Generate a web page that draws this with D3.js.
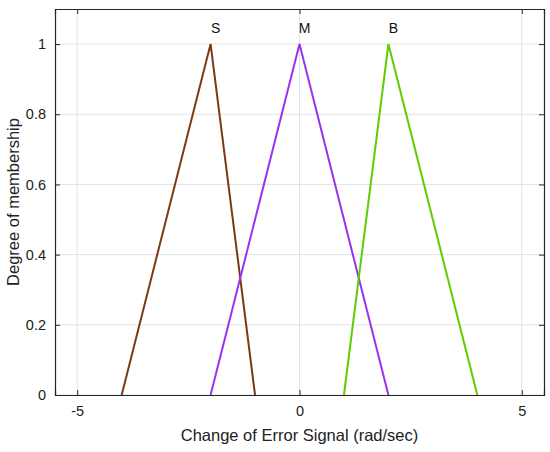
<!DOCTYPE html>
<html>
<head>
<meta charset="utf-8">
<script src="https://cdn.jsdelivr.net/npm/d3@7"></script>
<style>
  body { margin: 0; background: #fff; }
  svg { display: block; font-family: "Liberation Sans", Arial, sans-serif; }
</style>
</head>
<body>
<svg id="chart" width="550" height="452"></svg>
<script>
// membership function names and their triangle corners (a, peak, c)
var mfNames = ["S", "M", "B"];
var mfPoints = [[-4, -2, -1], [-2, 0, 2], [1, 2, 4]];
var mfColors = ["#7a3a14", "#9933ee", "#5fcc00"];
var xTicks = [-5, 0, 5];
var yTicks = [0, 0.2, 0.4, 0.6, 0.8, 1];

var margin = { top: 9, right: 6, bottom: 57, left: 55 };
var width = 550 - margin.left - margin.right,
    height = 452 - margin.top - margin.bottom;

var svg = d3.select("#chart");
var g = svg.append("g").attr("transform", "translate(" + margin.left + "," + margin.top + ")");

var x = d3.scaleLinear().domain([-5.5, 5.5]).range([0, width]);
var y = d3.scaleLinear().domain([0, 1.1]).range([height, 0]);

// grid
g.append("g").selectAll("line").data(xTicks).enter().append("line")
    .attr("x1", function(d) { return x(d); }).attr("x2", function(d) { return x(d); })
    .attr("y1", 0).attr("y2", height)
    .attr("stroke", "#e3e3e3");
g.append("g").selectAll("line").data(yTicks).enter().append("line")
    .attr("y1", function(d) { return y(d); }).attr("y2", function(d) { return y(d); })
    .attr("x1", 0).attr("x2", width)
    .attr("stroke", "#e3e3e3");

// membership triangles
var line = d3.line().x(function(d) { return x(d[0]); }).y(function(d) { return y(d[1]); });
mfPoints.forEach(function(p, i) {
    var pts = [[p[0], 0], [p[1], 1], [p[2], 0]];
    g.append("path").attr("d", line(pts))
        .attr("fill", "none")
        .attr("stroke", mfColors[i])
        .attr("stroke-width", 2);
    g.append("text")
        .attr("x", x(p[1]) + 5)
        .attr("y", y(1) - 11)
        .attr("text-anchor", "middle")
        .attr("font-size", 14)
        .attr("fill", "#111")
        .text(mfNames[i]);
});

// axes (ticks pointing inward, box around)
var axisColor = "#262626";
var xAxis = d3.axisBottom(x).tickValues(xTicks).tickSize(-5).tickPadding(11).tickFormat(function(d) { return String(d); });
var yAxis = d3.axisLeft(y).tickValues(yTicks).tickSize(-5).tickPadding(9).tickFormat(function(d) { return String(d); });

var gx = g.append("g").attr("transform", "translate(0," + height + ")").call(xAxis);
var gy = g.append("g").call(yAxis);
var gxTop = g.append("g").call(d3.axisTop(x).tickValues(xTicks).tickSize(-5).tickFormat(""));
var gyRight = g.append("g").attr("transform", "translate(" + width + ",0)")
    .call(d3.axisRight(y).tickValues(yTicks).tickSize(-5).tickFormat(""));

[gx, gy, gxTop, gyRight].forEach(function(a) {
    a.select(".domain").attr("stroke", axisColor).attr("stroke-width", 1.2);
    a.selectAll(".tick line").attr("stroke", axisColor);
    a.selectAll("text").attr("fill", "#222").attr("font-size", 14.5).attr("font-family", "Liberation Sans, Arial, sans-serif");
});

// axis labels
svg.append("text")
    .attr("x", margin.left + width / 2)
    .attr("y", 441)
    .attr("text-anchor", "middle")
    .attr("font-size", 16.5)
    .attr("fill", "#222")
    .text("Change of Error Signal (rad/sec)");

svg.append("text")
    .attr("transform", "translate(19," + (margin.top + height / 2) + ") rotate(-90)")
    .attr("text-anchor", "middle")
    .attr("font-size", 16.5)
    .attr("fill", "#222")
    .text("Degree of membership");
</script>
</body>
</html>
